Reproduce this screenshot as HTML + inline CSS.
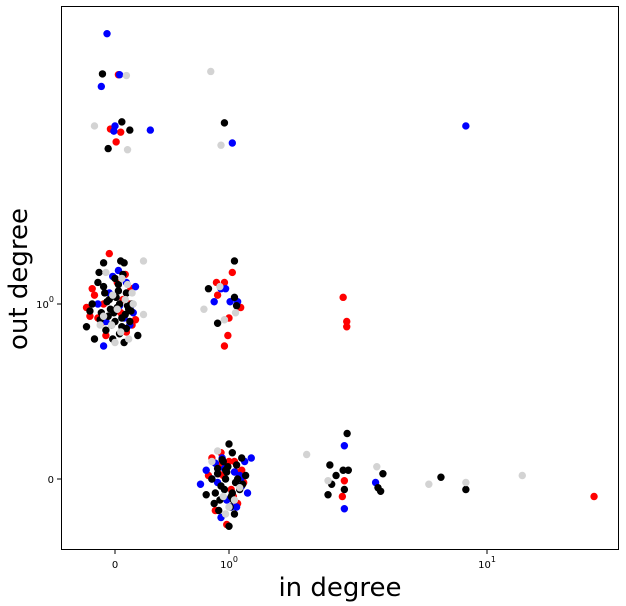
<!DOCTYPE html>
<html><head><meta charset="utf-8">
<style>
body{margin:0;background:#fff;}
svg{display:block;font-family:"DejaVu Sans","Liberation Sans",sans-serif;}
</style></head>
<body>
<svg id="chart" width="626" height="606">
<rect x="61.5" y="6.5" width="557" height="543" fill="#fff" stroke="#000" stroke-width="1"/>
<g id="marks"></g>
<g id="axes"></g>
<text x="340" y="596" font-size="26" text-anchor="middle">in degree</text>
<text x="0" y="0" font-size="26" text-anchor="middle" transform="translate(27,279) rotate(-90)">out degree</text>
</svg>
<script>
// data (in-degree, out-degree, jittered)
const grayX=[-0.18,0.10,0.84,0.93,0.11,0.25,0.25,0.09,-0.03,0.0,-0.13,0.11,0.05,0.78,1.06,0.96,0.92,2.0,2.42,3.74,5.95,8.28,13.7,0.9,1.05,0.97,1.1,0.85,-0.08,0.15,0.02,0.06,-0.1,0.16,0.12,-0.02,1.0,0.95];
const grayY=[2.2,2.75,2.8,2.02,1.98,1.21,0.94,1.02,0.88,0.78,0.88,1.09,0.84,0.97,0.95,0.91,1.08,0.14,-0.01,0.07,-0.03,-0.02,0.02,0.16,-0.12,-0.2,-0.05,0.1,1.15,1.05,0.97,1.12,0.93,1.0,0.8,1.04,-0.16,-0.1];
const redX=[-0.2,-0.25,-0.1,0.05,0.12,-0.05,-0.15,0.1,-0.22,0.02,0.15,0.07,-0.08,0.18,0.03,-0.04,0.01,0.05,0.89,1.03,0.96,0.9,1.0,1.11,0.99,0.96,2.77,2.86,2.86,2.8,2.75,26,0.85,0.92,1.05,1.12,0.95,1.02,0.88,1.08,0.82,0.98,1.14,0.93,1.06,-0.18,0.0,0.09,-0.12,0.14,0.91,1.0,1.04];
const redY=[1.07,0.98,1.0,0.95,1.0,1.25,0.92,0.84,0.93,1.1,0.88,1.02,0.82,0.91,2.76,2.17,2.05,2.14,1.1,1.15,1.1,1.04,0.92,0.98,0.82,0.76,1.03,0.9,0.87,-0.01,-0.1,-0.1,0.12,0.08,0.1,0.05,0.02,-0.06,-0.18,-0.14,0.02,-0.26,-0.02,0.15,0.04,1.04,0.96,1.14,0.89,1.07,0.03,0.1,-0.1];
const blueX=[-0.07,-0.12,0.0,-0.01,0.31,1.03,8.28,0.04,-0.1,0.03,0.13,0.16,0.04,-0.15,0.18,0.87,0.93,1.08,1.01,0.97,2.8,2.8,3.7,0.75,0.8,0.88,0.94,1.15,1.22,1.05,1.1,0.85,0.9,0.98,1.12,1.18,0.93,1.02,1.07,1.11,0.96,-0.05,0.08,0.1,-0.02,0.14,-0.08];
const blueY=[3.31,2.62,2.2,2.15,2.16,2.04,2.2,2.76,0.76,1.16,0.88,0.95,0.99,1.0,1.08,1.01,1.07,1.01,1.01,1.07,0.19,-0.17,-0.02,-0.03,0.05,0.09,0.12,0.1,0.12,0.04,0.02,0.0,-0.02,-0.12,-0.04,-0.08,-0.22,-0.16,-0.16,0.0,0.06,1.05,0.92,1.1,1.13,0.99,0.9];
const blackX=[-0.1,0.05,0.08,-0.15,0.0,0.1,-0.2,-0.05,0.02,0.12,-0.12,-0.25,0.0,0.06,-0.08,0.1,-0.18,0.04,-0.02,0.08,-0.22,0.15,-0.1,0.03,0.13,-0.06,0.2,-0.14,0.07,-0.03,
 1.05,0.82,1.05,1.07,0.9,-0.11,-0.06,0.06,0.13,0.96,
 2.46,2.87,2.77,2.9,2.42,2.6,2.5,3.78,3.95,3.87,6.63,8.28,2.8,
 0.85,0.9,0.95,1.0,1.03,1.07,1.12,1.16,0.88,0.93,0.98,1.02,1.06,1.1,0.8,0.87,0.92,0.97,1.01,1.05,1.13,0.9,0.96,1.0,1.08,0.94,0.99,1.04,0.91,
 0.04,-0.04,0.09,-0.09,0.01,0.11,-0.13,0.06,-0.01,0.03,-0.07,0.14,0.97,1.03];
const blackY=[1.2,1.21,1.2,1.1,1.12,1.05,1.0,1.02,0.98,0.97,0.95,0.87,0.9,0.92,0.85,0.86,0.8,0.83,0.8,0.78,0.96,1.0,1.08,1.06,0.9,0.93,0.82,1.15,1.14,0.88,
 1.21,1.07,1.03,0.99,0.89,2.77,1.99,2.24,2.16,2.23,
 0.08,0.26,0.05,0.05,-0.09,0.02,-0.03,-0.05,0.03,-0.07,0.01,-0.06,-0.06,
 0.0,0.06,0.1,0.2,0.15,0.08,0.12,0.02,-0.08,-0.04,0.04,-0.1,-0.02,-0.06,-0.09,-0.14,-0.12,0.0,-0.16,-0.2,-0.03,0.03,-0.06,-0.27,0.0,0.11,0.07,-0.12,-0.18,
 1.0,0.97,0.94,1.05,1.03,0.99,0.91,0.87,0.95,1.09,1.01,0.96,0.05,-0.08];
const xTicks=[0,1,10];
const xTickLabels=["0","10<tspan dy='-6' font-size='8'>0</tspan>","10<tspan dy='-6' font-size='8'>1</tspan>"];
const yTicks=[0,1];
const yTickLabels=["0","10<tspan dy='-6' font-size='8'>0</tspan>"];

function xs(v){return v<=1?115+114*v:229+258*Math.log10(v);}
function ys(v){return v<=1?479-175*v:304-520*Math.log10(v);}
const NS="http://www.w3.org/2000/svg";
const marks=document.getElementById('marks');
function draw(X,Y,color,name){
  for(let i=0;i<X.length;i++){
    const c=document.createElementNS(NS,'circle');
    c.setAttribute('cx',xs(X[i]));c.setAttribute('cy',ys(Y[i]));c.setAttribute('r',3.7);c.setAttribute('fill',color);
    
    
    marks.appendChild(c);
  }
}
draw(redX,redY,'#ff0000','red-point');
draw(blueX,blueY,'#0000ff','blue-point');
draw(blackX,blackY,'#000000','black-point');
draw(grayX,grayY,'#d3d3d3','gray-point');
const axes=document.getElementById('axes');
let h='';
xTicks.forEach((t,i)=>{const x=xs(t);h+=`<line x1="${x}" x2="${x}" y1="550" y2="554" stroke="#000"/><text x="${x}" y="568" font-size="10" text-anchor="middle">${xTickLabels[i]}</text>`;});
yTicks.forEach((t,i)=>{const y=ys(t);h+=`<line x1="57" x2="61" y1="${y}" y2="${y}" stroke="#000"/><text x="54" y="${y+4}" font-size="10" text-anchor="end">${yTickLabels[i]}</text>`;});
axes.innerHTML=h;
</script>
</body></html>
